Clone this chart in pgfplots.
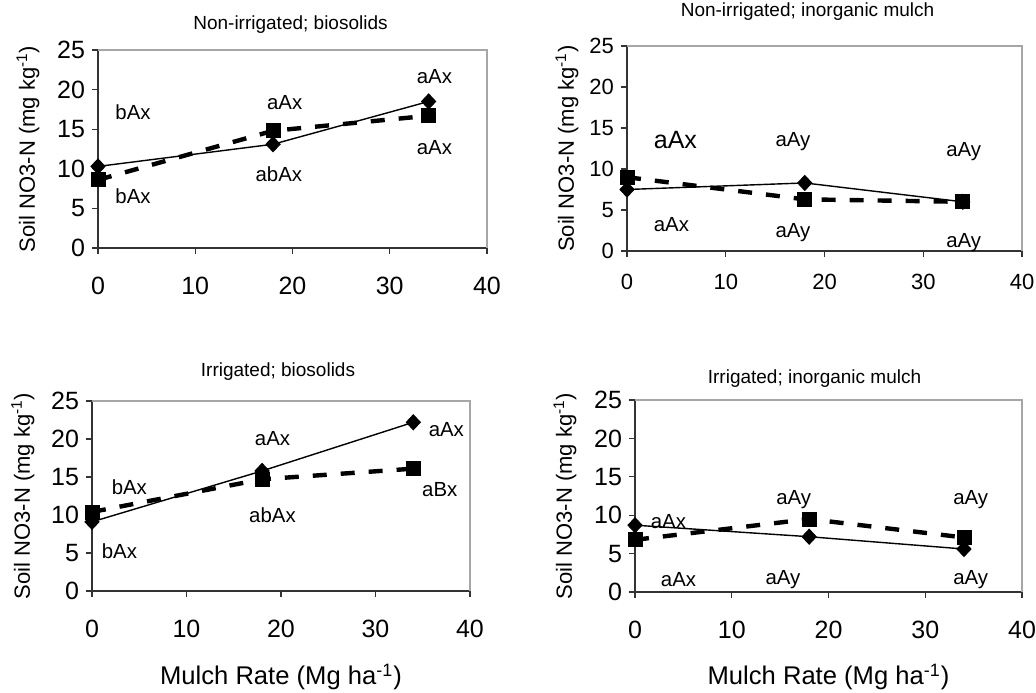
\documentclass[border=0pt]{standalone}
\usepackage{fontspec}
\setmainfont{Liberation Sans}
\usepackage{pgfplots}
\pgfplotsset{compat=1.18}

\pgfplotsset{
  mulch/.style={
    scale only axis,
    xmin=0, xmax=40, ymin=0, ymax=25,
    xtick={0,10,20,30,40}, ytick={0,5,...,25},
    axis lines*=left,
    axis line style={-, line width=0.6pt, black!80},
    tick align=outside, major tick length=3pt,
    tick style={line width=0.6pt, black!80},
    /pgf/number format/assume math mode=true,
    ticklabel style={font=\fontsize{12.5}{14}\selectfont},
    xticklabel style={yshift=-8pt},
    clip=false,
    after end axis/.code={\draw[gray!70, line width=0.6pt] (rel axis cs:0,1) -- (rel axis cs:1,1) -- (rel axis cs:1,0);},
    every axis title/.style={at={(axis description cs:0.5,1)}, anchor=center, yshift=12.5pt, font=\fontsize{9.5}{11}\selectfont},
    ylabel={Soil NO3-N (mg kg\textsuperscript{-1})},
    every axis y label/.style={at={(axis description cs:-0.18,0.5)}, rotate=90, anchor=center, font=\fontsize{11}{13}\selectfont},
    every axis x label/.style={at={(axis description cs:0.5,0)}, anchor=center, yshift=-43pt, font=\fontsize{12.8}{15}\selectfont},
  },
  solidser/.style={black, line width=0.7pt, mark=diamond*, mark size=3.6pt, mark options={solid, xscale=1.25}},
  dashser/.style={black, line width=2.2pt, dash pattern=on 7pt off 7pt, mark=square*, mark size=3.5pt, mark options={solid, line width=0.4pt}},
}
\tikzset{lbl/.style={font=\fontsize{10.2}{12}\selectfont, inner sep=0pt}}

\begin{document}
\begin{tikzpicture}
\useasboundingbox (0,0) rectangle (518pt,346pt);

% Non-irrigated; biosolids
\begin{axis}[mulch, at={(49pt,222pt)}, anchor=south west, width=194.5pt, height=99pt,
  title={Non-irrigated; biosolids},
  every axis title/.append style={xshift=-1pt}]
\addplot[solidser] coordinates {(0,10.3) (18,13.1) (34,18.5)};
\addplot[dashser] coordinates {(0,8.6) (18,14.8) (34,16.7)};
\node[lbl] at (axis cs:3.6,17.1) {bAx};
\node[lbl] at (axis cs:3.6,6.6) {bAx};
\node[lbl] at (axis cs:19.2,18.4) {aAx};
\node[lbl] at (axis cs:18.6,9.3) {abAx};
\node[lbl] at (axis cs:34.6,21.7) {aAx};
\node[lbl] at (axis cs:34.6,12.7) {aAx};
\end{axis}

% Non-irrigated; inorganic mulch
\begin{axis}[mulch, at={(313.5pt,220.5pt)}, anchor=south west, width=197.5pt, height=102.5pt,
  title={Non-irrigated; inorganic mulch},
  ticklabel style={font=\fontsize{11}{13}\selectfont},
  xticklabel style={yshift=3pt},
  every axis title/.append style={xshift=-8.5pt, yshift=4.5pt},
  every axis y label/.append style={at={(axis description cs:-0.152,0.5)}}]
\addplot[solidser] coordinates {(0,7.5) (18,8.3) (34,6.0)};
\addplot[dashser] coordinates {(0,9.0) (18,6.3) (34,6.0)};
\node[lbl, font=\fontsize{12.5}{14}\selectfont] at (axis cs:4.9,13.5) {aAx};
\node[lbl] at (axis cs:16.8,13.3) {aAy};
\node[lbl] at (axis cs:34.1,12.1) {aAy};
\node[lbl] at (axis cs:4.5,3.2) {aAx};
\node[lbl] at (axis cs:16.8,2.3) {aAy};
\node[lbl] at (axis cs:34.1,1.0) {aAy};
\end{axis}

% Irrigated; biosolids
\begin{axis}[mulch, at={(46pt,50.5pt)}, anchor=south west, width=189pt, height=95pt,
  title={Irrigated; biosolids},
  xlabel={Mulch Rate (Mg ha\textsuperscript{-1})},
  every axis title/.append style={xshift=-1.5pt, yshift=2pt},
  every axis y label/.append style={at={(axis description cs:-0.183,0.5)}}]
\addplot[solidser] coordinates {(0,9.1) (18,15.8) (34,22.2)};
\addplot[dashser] coordinates {(0,10.4) (18,14.7) (34,16.1)};
\node[lbl] at (axis cs:3.95,13.7) {bAx};
\node[lbl] at (axis cs:2.9,5.3) {bAx};
\node[lbl] at (axis cs:19.1,20.0) {aAx};
\node[lbl] at (axis cs:19.1,10.0) {abAx};
\node[lbl] at (axis cs:37.5,21.3) {aAx};
\node[lbl] at (axis cs:36.8,13.3) {aBx};
\end{axis}

% Irrigated; inorganic mulch
\begin{axis}[mulch, at={(317.5pt,50pt)}, anchor=south west, width=193.5pt, height=96pt,
  title={Irrigated; inorganic mulch},
  xlabel={Mulch Rate (Mg ha\textsuperscript{-1})},
  every axis title/.append style={xshift=-7pt, yshift=-2pt},
  every axis x label/.append style={yshift=0.5pt},
  every axis y label/.append style={at={(axis description cs:-0.181,0.5)}}]
\addplot[solidser] coordinates {(0,8.7) (18,7.2) (34,5.6)};
\addplot[dashser] coordinates {(0,6.8) (18,9.5) (34,7.1)};
\node[lbl] at (axis cs:3.45,9.15) {aAx};
\node[lbl] at (axis cs:4.5,1.6) {aAx};
\node[lbl] at (axis cs:16.4,12.0) {aAy};
\node[lbl] at (axis cs:15.3,1.6) {aAy};
\node[lbl] at (axis cs:34.7,12.0) {aAy};
\node[lbl] at (axis cs:34.7,1.6) {aAy};
\end{axis}
\end{tikzpicture}
\end{document}
